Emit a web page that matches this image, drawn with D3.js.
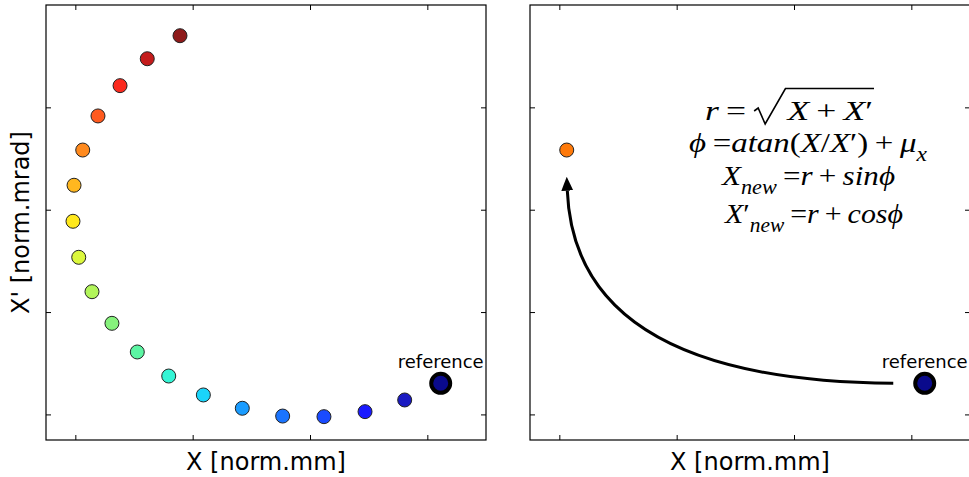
<!DOCTYPE html>
<html>
<head>
<meta charset="utf-8">
<script src="https://cdn.jsdelivr.net/npm/d3@7"></script>
<style>
  body { margin: 0; background: #fff; }
  svg { display: block; }
</style>
</head>
<body>
<svg id="chart" width="969" height="477"></svg>
<script>
// Tick positions (unlabelled) shared by both panels
const xTicks = [-1, 0, 1, 2];
const yTicks = [-1, 0, 1, 2];

// Particle positions in normalised phase space, one per turn
const trackX = [-0.108, -0.387, -0.619, -0.807, -0.937, -1.011, -1.020, -0.971, -0.858,
                -0.688, -0.472, -0.204, 0.091, 0.423, 0.767, 1.119, 1.469, 1.807];
const trackY = [2.700, 2.475, 2.212, 1.916, 1.583, 1.239, 0.887, 0.535, 0.199,
                -0.110, -0.390, -0.625, -0.810, -0.940, -1.016, -1.022, -0.973, -0.859];

// Reference particle
const refX = [2.114];
const refY = [-0.696];
const refLabel = ["reference"];

// Turn shown after the rotation in the right panel
const movedIndex = [4];

// Rotation arrow: from, bend control, to (data units)
const arrowFrom = [1.846, -0.696];
const arrowBend = [-0.866, -0.674];
const arrowTo = [-0.937, 1.323];

// Axis titles
const xTitle = "X [norm.mm]";
const yTitle = "X' [norm.mrad]";

// jet-like palette, one colour per turn
const jetColors = ["#8e1a1a", "#c41c1c", "#fb2a1e", "#ff5a1e", "#ff8a1e", "#ffb71f",
                   "#ffe81c", "#dcf83c", "#b2f55a", "#86f27c", "#5cf5a3", "#34f5d5",
                   "#1ad5fa", "#1a9cff", "#1a74ff", "#1a4bff", "#1a1aff", "#1a1ac2"];
const refColor = "#0a0a8c";
const movedColor = "#ff7a0a";

const W = 440, H = 435;
const x = d3.scaleLinear().domain([-1.25, 2.5]).range([0, W]);
const y = d3.scaleLinear().domain([-1.25, 3]).range([H, 0]);

const svg = d3.select("#chart");

function framedPanel(left, top) {
  const g = svg.append("g").attr("transform", `translate(${left},${top})`);
  const tick = 5;
  const axes = [
    [d3.axisBottom(x), `translate(0,${H})`],
    [d3.axisTop(x), `translate(0,0)`],
    [d3.axisLeft(y), `translate(0,0)`],
    [d3.axisRight(y), `translate(${W},0)`]
  ];
  axes.forEach(([ax, tr], i) => {
    ax.tickValues(i < 2 ? xTicks : yTicks).tickSize(-tick).tickSizeOuter(0).tickFormat("");
    const a = g.append("g").attr("transform", tr).call(ax);
    a.select(".domain").remove();
    a.selectAll(".tick line").attr("stroke", "#000").attr("stroke-width", 1);
  });
  g.append("rect").attr("x", 0).attr("y", 0).attr("width", W).attr("height", H)
    .attr("fill", "none").attr("stroke", "#000").attr("stroke-width", 1.2);
  return g;
}

function addTitles(g) {
  g.append("text").attr("x", W / 2).attr("y", 465)
    .attr("text-anchor", "middle")
    .attr("font-family", "DejaVu Sans").attr("font-size", 24)
    .text(xTitle);
}

function drawReference(g) {
  g.append("circle")
    .attr("cx", x(refX[0])).attr("cy", y(refY[0])).attr("r", 9.5)
    .attr("fill", refColor).attr("stroke", "#000").attr("stroke-width", 4);
  g.append("text")
    .attr("x", x(refX[0])).attr("y", y(refY[0]) - 15)
    .attr("text-anchor", "middle")
    .attr("font-family", "DejaVu Sans").attr("font-size", 18)
    .text(refLabel[0]);
}

// ---- left panel: full trajectory ----
const left = framedPanel(46, 5);
addTitles(left);
left.append("text")
  .attr("transform", `translate(-17.5,${H / 2}) rotate(-90)`)
  .attr("text-anchor", "middle")
  .attr("font-family", "DejaVu Sans").attr("font-size", 24)
  .text(yTitle);

left.selectAll("circle.turn")
  .data(trackX.map((v, i) => ({ x: v, y: trackY[i], c: jetColors[i] })))
  .join("circle").attr("class", "turn")
  .attr("cx", d => x(d.x)).attr("cy", d => y(d.y)).attr("r", 7)
  .attr("fill", d => d.c).attr("stroke", "#222").attr("stroke-width", 1);
drawReference(left);

// ---- right panel: single rotation step ----
const right = framedPanel(530, 5);
addTitles(right);

const defs = svg.append("defs");
defs.append("marker").attr("id", "head")
  .attr("markerUnits", "userSpaceOnUse")
  .attr("viewBox", "0 -7 14 14").attr("refX", 0).attr("refY", 0)
  .attr("markerWidth", 14).attr("markerHeight", 14).attr("orient", "auto")
  .append("path").attr("d", "M0,-6L14,0L0,6Z").attr("fill", "#000");

{
  const p0 = [x(arrowFrom[0]), y(arrowFrom[1])];
  const c = [x(arrowBend[0]), y(arrowBend[1])];
  const p2 = [x(arrowTo[0]), y(arrowTo[1])];
  const dx = p2[0] - c[0], dy = p2[1] - c[1];
  const len = Math.hypot(dx, dy);
  const base = [p2[0] - 14 * dx / len, p2[1] - 14 * dy / len];
  const path = d3.path();
  path.moveTo(p0[0], p0[1]);
  path.quadraticCurveTo(c[0], c[1], base[0], base[1]);
  right.append("path").attr("d", path.toString())
    .attr("fill", "none").attr("stroke", "#000").attr("stroke-width", 3)
    .attr("marker-end", "url(#head)");
}

right.append("circle")
  .attr("cx", x(trackX[movedIndex[0]])).attr("cy", y(trackY[movedIndex[0]])).attr("r", 7)
  .attr("fill", movedColor).attr("stroke", "#222").attr("stroke-width", 1);
drawReference(right);

// ---- rotation formulas ----
const TH = "\u2009";
const formulaLines = [
  { x: 175, y: 115, w: 168, segs: [["r", 1], [TH + "=" + TH, 0], ["X", 1, 0, 27], [TH + "+" + TH, 0], ["X", 1], ["\u2032", 0]] },
  { x: 159, y: 147, w: 238, segs: [["\u03d5", 1], [TH + "=", 0], ["atan", 1], ["(", 0], ["X", 1], ["/", 0], ["X", 1], ["\u2032", 0], [")", 0], [TH + "+" + TH, 0], ["\u03bc", 1], ["x", 1, 1]] },
  { x: 192, y: 180, w: 173, segs: [["X", 1], ["new", 1, 1], [TH + "=", 0], ["r", 1], [TH + "+" + TH, 0], ["sin\u03d5", 1]] },
  { x: 195, y: 218, w: 178, segs: [["X", 1], ["\u2032", 0], ["new", 1, 1], [TH + "=", 0], ["r", 1], [TH + "+" + TH, 0], ["cos\u03d5", 1]] }
];

const formula = right.append("g");
formulaLines.forEach((line, li) => {
  const t = formula.append("text")
    .attr("x", line.x).attr("y", line.y)
    .attr("font-family", "Liberation Serif, DejaVu Serif, serif")
    .attr("font-size", 28)
    .attr("textLength", line.w).attr("lengthAdjust", "spacingAndGlyphs");
  let sub = false;
  line.segs.forEach(([s, it, isSub, gap]) => {
    const ts = t.append("tspan").text(s)
      .attr("font-style", it ? "italic" : "normal");
    if (gap) ts.attr("dx", gap);
    if (isSub && !sub) { ts.attr("dy", 9).attr("font-size", 20); sub = true; }
    else if (isSub) { ts.attr("font-size", 20); }
    else if (sub) { ts.attr("dy", -9); sub = false; }
  });
  if (li === 0) {
    // radical sign over X + X'
    const node = t.node();
    const n = node.getNumberOfChars();
    const a = node.getEndPositionOfChar(3).x + 1;
    const xs = node.getStartPositionOfChar(4).x;
    const xe = node.getEndPositionOfChar(n - 1).x + 1;
    const b = line.y;
    const top = b - 31.5;
    const r = d3.path();
    r.moveTo(a, b - 9);
    r.lineTo(a + 4, b - 12);
    r.lineTo(a + 11, b + 4);
    r.lineTo(xs - 2, top);
    r.lineTo(xe, top);
    formula.append("path").attr("d", r.toString())
      .attr("fill", "none").attr("stroke", "#000").attr("stroke-width", 1.6)
      .attr("stroke-linejoin", "miter");
  }
});
</script>
</body>
</html>
